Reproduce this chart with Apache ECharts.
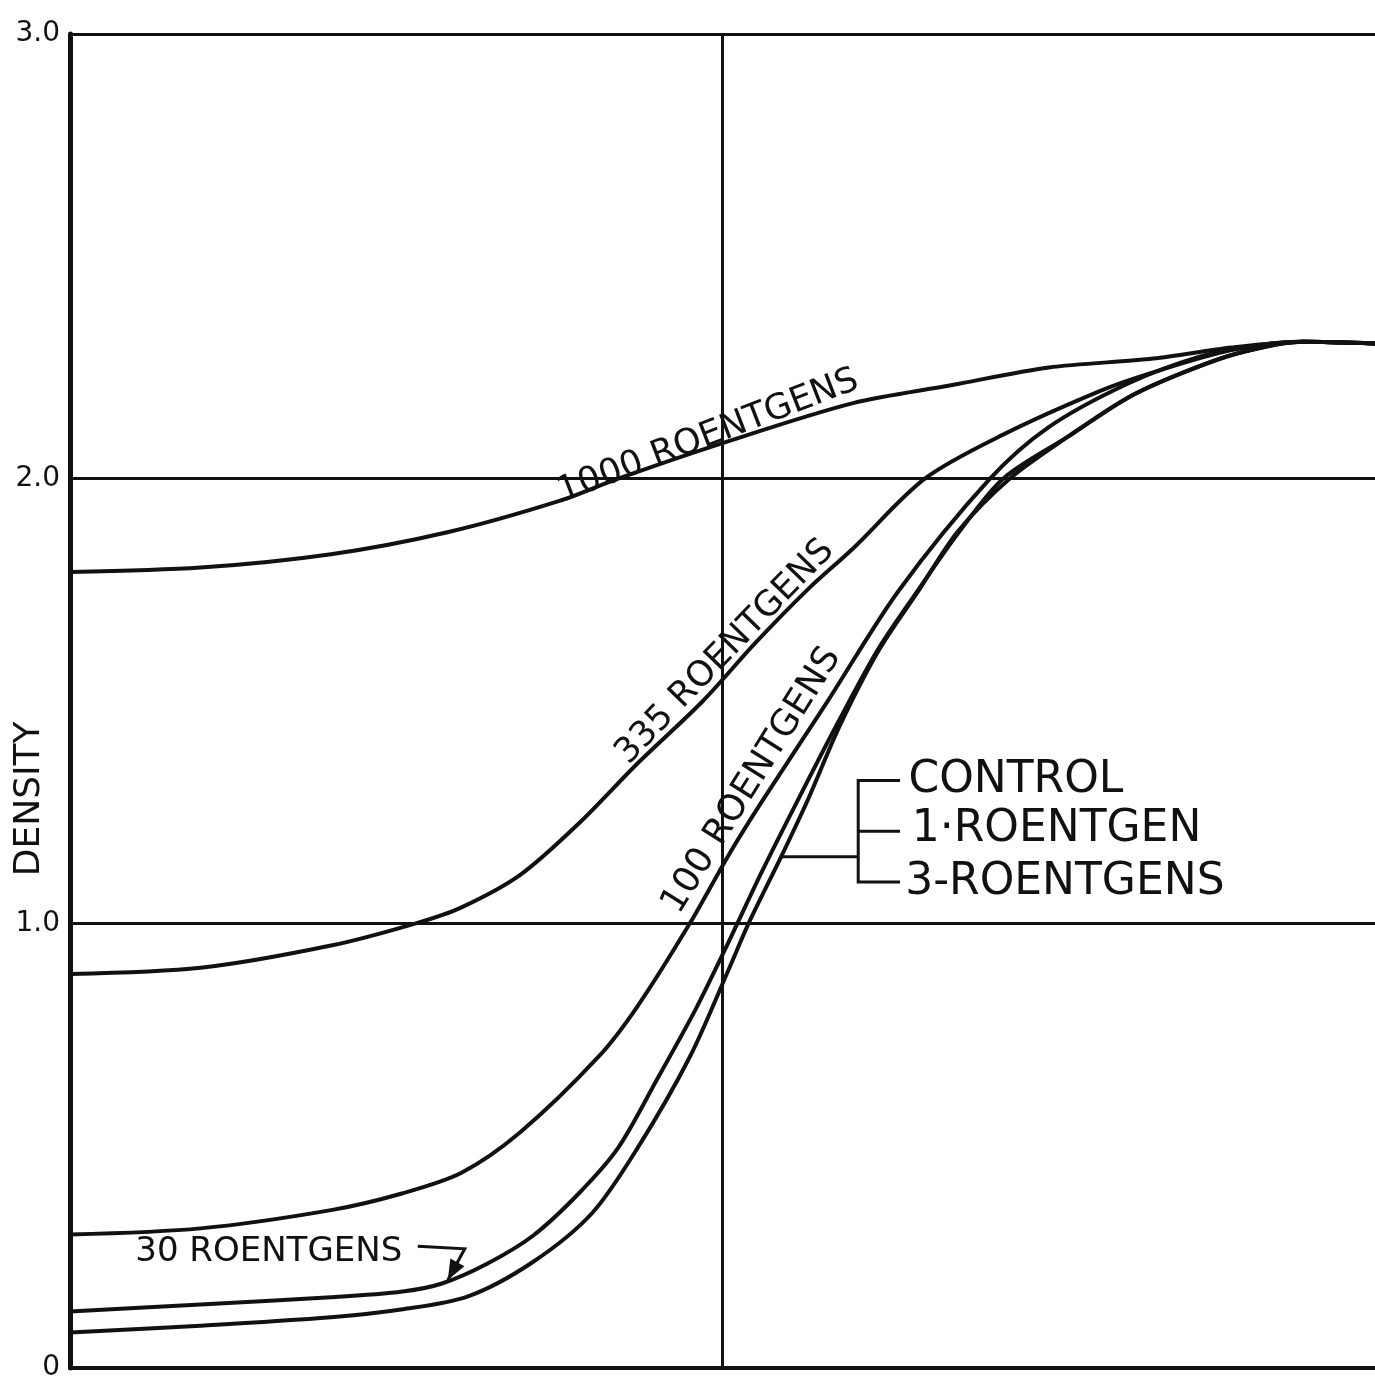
<!DOCTYPE html>
<html>
<head>
<meta charset="utf-8">
<title>Density curves</title>
<script src="https://cdn.jsdelivr.net/npm/echarts@6/dist/echarts.min.js"></script>
<style>
  html, body { margin: 0; padding: 0; background: #fff; }
  #chart { width: 1375px; height: 1384px; }
</style>
</head>
<body>
<div id="chart"></div>
<script>
// Density against exposure for each X-ray dose; x runs over two exposure steps.
const dose1000 = [[0,1.79],[0.2,1.80],[0.4,1.83],[0.58,1.88],[0.75,1.95],[0.84,2.0],[1.0,2.08],[1.2,2.17],[1.35,2.21],[1.5,2.25],[1.66,2.27],[1.78,2.295],[1.89,2.308],[2.0,2.304]];
const dose335 = [[0,0.886],[0.2,0.90],[0.4,0.95],[0.53,1.0],[0.6,1.036],[0.69,1.109],[0.78,1.225],[0.87,1.36],[0.97,1.50],[1.05,1.63],[1.13,1.75],[1.20,1.843],[1.31,2.0],[1.43,2.099],[1.58,2.198],[1.66,2.239],[1.78,2.289],[1.89,2.308],[2.0,2.304]];
const dose100 = [[0,0.30],[0.2,0.314],[0.4,0.355],[0.51,0.393],[0.6,0.439],[0.69,0.53],[0.81,0.70],[0.87,0.814],[0.95,1.0],[1.01,1.155],[1.06,1.273],[1.16,1.497],[1.27,1.748],[1.41,2.0],[1.50,2.116],[1.62,2.213],[1.73,2.274],[1.82,2.30],[1.89,2.308],[2.0,2.304]];
const dose30 = [[0,0.127],[0.2,0.143],[0.4,0.159],[0.51,0.172],[0.57,0.190],[0.64,0.235],[0.71,0.298],[0.78,0.393],[0.84,0.495],[0.90,0.65],[0.96,0.81],[1.01,0.96],[1.06,1.115],[1.12,1.29],[1.18,1.46],[1.24,1.62],[1.30,1.75],[1.36,1.875],[1.43,2.0],[1.53,2.095],[1.62,2.181],[1.70,2.235],[1.79,2.282],[1.89,2.308],[2.0,2.304]];
const doseControl = [[0,0.080],[0.2,0.095],[0.4,0.114],[0.51,0.132],[0.61,0.161],[0.71,0.239],[0.80,0.348],[0.87,0.495],[0.95,0.70],[1.01,0.898],[1.04,1.0],[1.09,1.150],[1.13,1.275],[1.18,1.445],[1.24,1.615],[1.30,1.747],[1.36,1.880],[1.44,2.0],[1.53,2.095],[1.62,2.181],[1.70,2.235],[1.79,2.282],[1.89,2.308],[2.0,2.304]];

const yTicks = ['0', '1.0', '2.0', '3.0'];
const curveLabels = ['1000 ROENTGENS', '335 ROENTGENS', '100 ROENTGENS', '30 ROENTGENS'];
const groupLabels = ['CONTROL', '1·ROENTGEN', '3-ROENTGENS'];
const axisTitle = 'DENSITY';

const INK = '#111';
const FONT = '"DejaVu Sans", "Liberation Sans", sans-serif';

const chart = echarts.init(document.getElementById('chart'), null, { renderer: 'canvas' });

function curve(name, data) {
  return {
    name, type: 'line', data,
    smooth: 0.3,
    symbol: 'none', z: 5,
    lineStyle: { color: INK, width: 4, cap: 'round', join: 'round' }
  };
}

const series = [
  curve('1000', dose1000),
  curve('335', dose335),
  curve('100', dose100),
  curve('30', dose30),
  curve('control', doseControl)
];
series[0].markLine = {
  silent: true, symbol: 'none', label: { show: false },
  lineStyle: { color: INK, width: 3, type: 'solid' },
  data: [{ xAxis: 1 }]
};

chart.setOption({
  backgroundColor: '#fff',
  animation: false,
  grid: { left: 70, right: 0, top: 34, bottom: 16 },
  xAxis: {
    type: 'value', min: 0, max: 2, interval: 1,
    axisLine: { show: true, onZero: false, lineStyle: { color: INK, width: 4 } },
    axisTick: { show: false }, axisLabel: { show: false }, splitLine: { show: false }
  },
  yAxis: {
    type: 'value', min: 0, max: 3, interval: 1,
    axisLine: { show: true, lineStyle: { color: INK, width: 5 } },
    axisTick: { show: false },
    axisLabel: {
      color: INK, fontFamily: FONT, fontSize: 28, margin: 10,
      formatter: v => yTicks[Math.round(v)]
    },
    splitLine: { show: true, lineStyle: { color: INK, width: 3 } }
  },
  series
});

// Annotations placed through the chart's own coordinate system
const P = (x, y) => chart.convertToPixel({ gridIndex: 0 }, [x, y]);
const deg = d => d * Math.PI / 180;

function text(str, pos, size, rot, align) {
  return {
    type: 'text', x: pos[0], y: pos[1], rotation: rot || 0, z: 10,
    style: {
      text: str, fill: INK, font: size + 'px ' + FONT,
      align: align || 'center', verticalAlign: 'middle',
      textAlign: align || 'center', textVerticalAlign: 'middle'
    }
  };
}

function line(points, width) {
  return {
    type: 'polyline', z: 10,
    shape: { points },
    style: { stroke: INK, lineWidth: width || 3, fill: null }
  };
}

const graphics = [];
graphics.push(text(curveLabels[0], P(0.978, 2.095), 35, deg(21)));
graphics.push(text(curveLabels[1], P(1.004, 1.61), 35, deg(46)));
graphics.push(text(curveLabels[2], P(1.045, 1.321), 36, deg(58)));
graphics.push(text(curveLabels[3], P(0.1, 0.261), 34, 0, 'left'));

// pointer from the 30 R label to its curve
const a0 = P(0.533, 0.274), a1 = P(0.605, 0.268), tip = P(0.579, 0.198);
graphics.push(line([a0, a1, tip], 3));
{
  const dx = tip[0] - a1[0], dy = tip[1] - a1[1];
  const len = Math.hypot(dx, dy), ux = dx / len, uy = dy / len;
  const bx = tip[0] - ux * 20, by = tip[1] - uy * 20;
  graphics.push({
    type: 'polygon', z: 11,
    shape: { points: [tip, [bx - uy * 8, by + ux * 8], [bx + uy * 8, by - ux * 8]] },
    style: { fill: INK }
  });
}

// bracket grouping the three nearly identical curves
const bx0 = 1.208, bx1 = 1.272;
graphics.push(line([P(bx1, 1.321), P(bx0, 1.321), P(bx0, 1.093), P(bx1, 1.093)], 3));
graphics.push(line([P(bx0, 1.207), P(bx1, 1.207)], 3));
graphics.push(line([P(1.088, 1.150), P(bx0, 1.150)], 3));
graphics.push(text(groupLabels[0], P(1.285, 1.321), 44, 0, 'left'));
graphics.push(text(groupLabels[1], P(1.290, 1.212), 44, 0, 'left'));
graphics.push(text(groupLabels[2], P(1.280, 1.091), 44, 0, 'left'));

// vertical axis title
const yt = P(0, 1.28);
graphics.push(text(axisTitle, [30, yt[1]], 36, deg(90)));

chart.setOption({ graphic: graphics });
</script>
</body>
</html>
